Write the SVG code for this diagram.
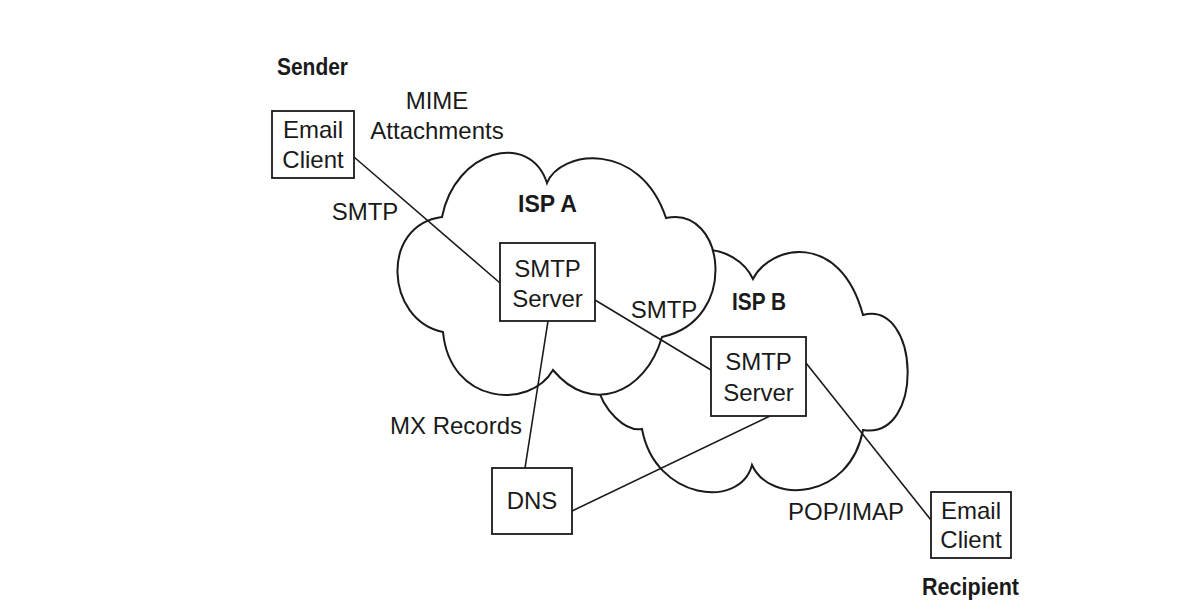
<svg xmlns="http://www.w3.org/2000/svg" width="1190" height="614" viewBox="0 0 1190 614">
<style>
.bg{fill:#ffffff}
.cloud{fill:#ffffff;stroke:#1a1a1a;stroke-width:2;stroke-linejoin:miter}
.box{fill:#ffffff;stroke:#1a1a1a;stroke-width:1.8}
.conn{stroke:#1a1a1a;stroke-width:1.6;fill:none}
.t{font-family:"Liberation Sans",Arial,sans-serif;font-size:24px;fill:#1a1a1a;text-anchor:middle}
.b{font-family:"Liberation Sans",Arial,sans-serif;font-size:24px;font-weight:bold;fill:#1a1a1a}
</style>
<rect class="bg" x="0" y="0" width="1190" height="614"/>
<g id="isp-b">
<path class="cloud" d="M700,250 C725,248 745,262 753,279 C770,245 840,230 863,315 C920,300 925,440 863,430 C850,500 770,505 752,465 C740,510 655,500 642,429 C625,432 603,410 597,385 L650,320 Z"/>
<text class="b" x="732" y="310" textLength="54" lengthAdjust="spacingAndGlyphs">ISP B</text>
</g>
<g id="isp-a">
<path class="cloud" d="M442,217 C455,150 530,130 547,183 C560,150 640,140 666,218 C725,205 740,320 662,337 C645,395 590,415 553,370 C530,410 450,405 443,332 C385,320 380,225 442,217 Z"/>
<text class="b" x="518" y="212" textLength="59" lengthAdjust="spacingAndGlyphs">ISP A</text>
</g>
<g id="connectors">
<line class="conn" x1="354" y1="157" x2="500" y2="283"/>
<line class="conn" x1="595" y1="300" x2="711" y2="370"/>
<line class="conn" x1="548" y1="321" x2="525" y2="468"/>
<line class="conn" x1="572" y1="511" x2="770" y2="416"/>
<line class="conn" x1="806" y1="363" x2="931" y2="520"/>
<text class="t" x="365" y="220">SMTP</text>
<text class="t" x="664" y="318">SMTP</text>
<text class="t" x="456" y="434">MX Records</text>
<text class="t" x="846" y="520">POP/IMAP</text>
</g>
<g id="sender">
<text class="b" x="277" y="75" textLength="71" lengthAdjust="spacingAndGlyphs">Sender</text>
<text class="t" x="437" y="109">MIME</text>
<text class="t" x="437" y="139">Attachments</text>
</g>
<g id="sender-client">
<rect class="box" x="272" y="111" width="82" height="67"/>
<text class="t" x="313" y="138">Email</text>
<text class="t" x="313" y="168">Client</text>
</g>
<g id="smtp-a">
<rect class="box" x="500" y="243" width="95" height="78"/>
<text class="t" x="547.5" y="277">SMTP</text>
<text class="t" x="547.5" y="307">Server</text>
</g>
<g id="smtp-b">
<rect class="box" x="711" y="337" width="95" height="79"/>
<text class="t" x="758.5" y="370">SMTP</text>
<text class="t" x="758.5" y="401">Server</text>
</g>
<g id="dns">
<rect class="box" x="492" y="468" width="80" height="66"/>
<text class="t" x="532" y="509">DNS</text>
</g>
<g id="recipient-client">
<rect class="box" x="931" y="492" width="80" height="66"/>
<text class="t" x="971" y="519">Email</text>
<text class="t" x="971" y="548">Client</text>
</g>
<g id="recipient">
<text class="b" x="922" y="595" textLength="97" lengthAdjust="spacingAndGlyphs">Recipient</text>
</g>
</svg>
